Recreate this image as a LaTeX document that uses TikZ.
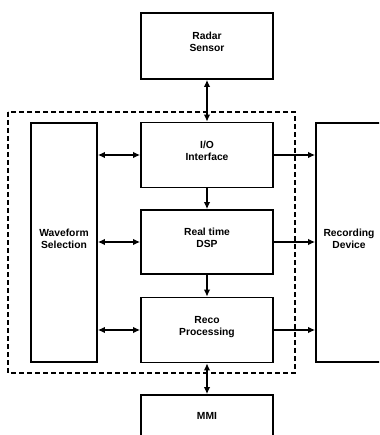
\documentclass[tikz,border=0pt]{standalone}
\usepackage{fontspec}
\setmainfont{Liberation Sans}
\usetikzlibrary{arrows.meta}

\begin{document}
\begin{tikzpicture}[x=1pt, y=-1pt,
    blk/.style = {draw, line width=1.7pt, align=center, inner sep=0pt, text depth=8pt,
                  font=\fontsize{10.3}{12}\selectfont\bfseries},
    link/.style = {line width=1.4pt, -{Latex[length=7pt,width=6.5pt]}},
    bilink/.style = {line width=1.4pt, {Latex[length=7pt,width=6.5pt]}-{Latex[length=7pt,width=6.5pt]}}]
  \useasboundingbox (0,0) rectangle (379,435);
  \clip (0,0) rectangle (379,435);

  % dashed frame round the processing part
  \draw[line width=1.2pt, dash pattern=on 5pt off 3pt] (8,112) rectangle (295,373);

  % blocks
  \node[blk, minimum width=132pt, minimum height=66pt] (radar) at (207,46) {Radar\\Sensor};
  \node[blk, minimum width=132pt, minimum height=65pt] (io) at (207,155) {I/O\\Interface};
  \node[blk, minimum width=132pt, minimum height=64pt] (dsp) at (207,242) {Real time\\DSP};
  \node[blk, minimum width=132pt, minimum height=65pt] (reco) at (207,330) {Reco\\Processing};
  \node[blk, minimum width=132pt, minimum height=50pt] (mmi) at (207,420) {MMI};
  \node[blk, minimum width=66pt, minimum height=239pt] (wave) at (64,242.5) {Waveform\\Selection};
  \node[blk, minimum width=66pt, minimum height=239pt] (rec) at (349,242.5) {Recording\\Device};

  % connections
  \draw[bilink] (radar) -- (io);
  \draw[link] (io) -- (dsp);
  \draw[link] (dsp) -- (reco);
  \draw[bilink] (reco) -- (mmi);
  \draw[bilink] (wave.east |- io) -- (io);
  \draw[bilink] (wave.east |- dsp) -- (dsp);
  \draw[bilink] (wave.east |- reco) -- (reco);
  \draw[link] (io) -- (rec.west |- io);
  \draw[link] (dsp) -- (rec.west |- dsp);
  \draw[link] (reco) -- (rec.west |- reco);
\end{tikzpicture}
\end{document}
